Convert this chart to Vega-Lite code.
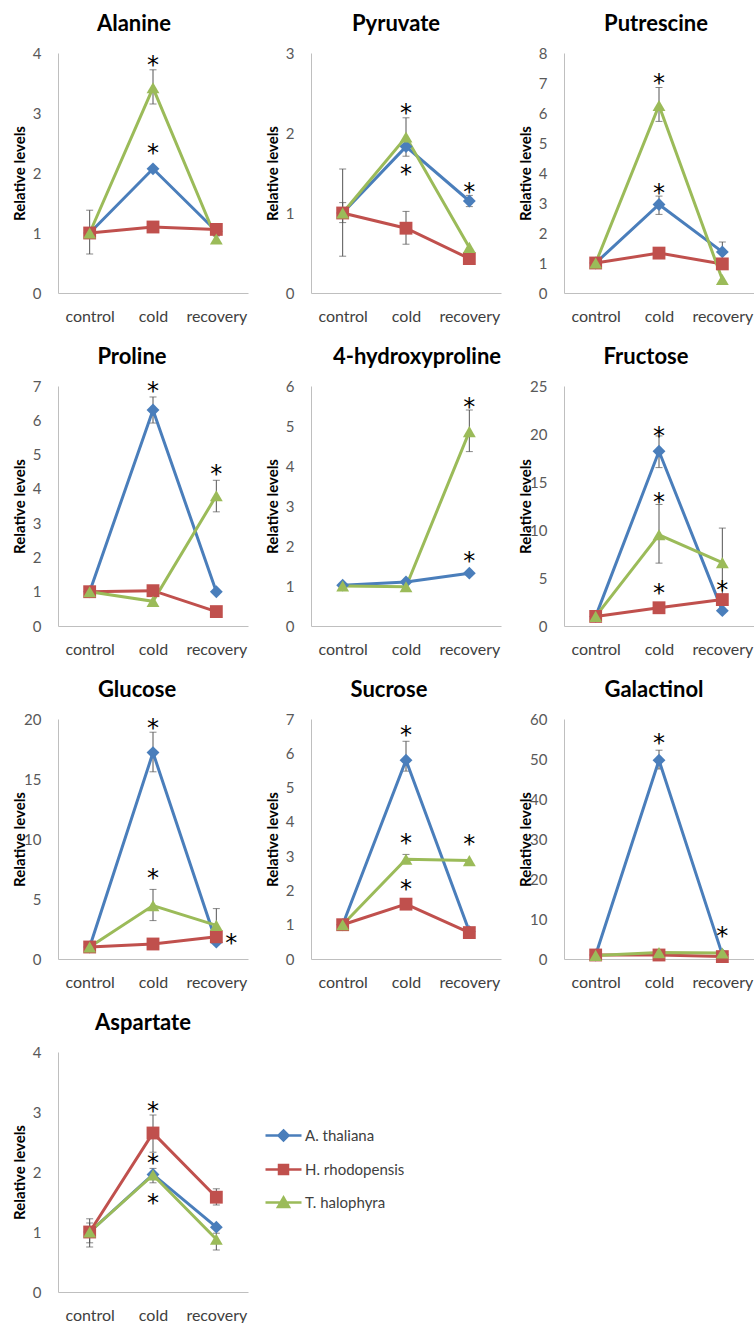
{
  "$schema": "https://vega.github.io/schema/vega-lite/v6.json",
  "padding": {"left": 12, "top": 13, "right": 0, "bottom": 0},
  "background": "white",
  "columns": 3,
  "bounds": "flush",
  "spacing": {"row": 93, "column": 63},
  "resolve": {"legend": {"color": "independent", "shape": "independent"}},
  "data": {"values": [
    {"m":"Alanine","c":"control","s":"A. thaliana","v":1.0},
    {"m":"Alanine","c":"cold","s":"A. thaliana","v":2.07,"sy":2.41},
    {"m":"Alanine","c":"recovery","s":"A. thaliana","v":1.03},
    {"m":"Alanine","c":"control","s":"H. rhodopensis","v":1.0},
    {"m":"Alanine","c":"cold","s":"H. rhodopensis","v":1.1},
    {"m":"Alanine","c":"recovery","s":"H. rhodopensis","v":1.06,"lo":0.96,"hi":1.12},
    {"m":"Alanine","c":"control","s":"T. halophyra","v":1.0,"lo":0.65,"hi":1.38},
    {"m":"Alanine","c":"cold","s":"T. halophyra","v":3.42,"lo":3.15,"hi":3.72,"sy":3.88},
    {"m":"Alanine","c":"recovery","s":"T. halophyra","v":0.9,"lo":0.85,"hi":0.95},

    {"m":"Pyruvate","c":"control","s":"A. thaliana","v":1.0},
    {"m":"Pyruvate","c":"cold","s":"A. thaliana","v":1.83,"sy":1.55},
    {"m":"Pyruvate","c":"recovery","s":"A. thaliana","v":1.15,"lo":1.08,"hi":1.22,"sy":1.33},
    {"m":"Pyruvate","c":"control","s":"H. rhodopensis","v":1.0,"lo":0.46,"hi":1.55},
    {"m":"Pyruvate","c":"cold","s":"H. rhodopensis","v":0.81,"lo":0.61,"hi":1.02},
    {"m":"Pyruvate","c":"recovery","s":"H. rhodopensis","v":0.43},
    {"m":"Pyruvate","c":"control","s":"T. halophyra","v":1.0,"lo":0.88,"hi":1.13},
    {"m":"Pyruvate","c":"cold","s":"T. halophyra","v":1.95,"lo":1.71,"hi":2.19,"sy":2.31},
    {"m":"Pyruvate","c":"recovery","s":"T. halophyra","v":0.57},

    {"m":"Putrescine","c":"control","s":"A. thaliana","v":1.0},
    {"m":"Putrescine","c":"cold","s":"A. thaliana","v":2.95,"lo":2.62,"hi":3.23,"sy":3.49},
    {"m":"Putrescine","c":"recovery","s":"A. thaliana","v":1.37,"lo":1.02,"hi":1.7},
    {"m":"Putrescine","c":"control","s":"H. rhodopensis","v":1.0},
    {"m":"Putrescine","c":"cold","s":"H. rhodopensis","v":1.33},
    {"m":"Putrescine","c":"recovery","s":"H. rhodopensis","v":0.97},
    {"m":"Putrescine","c":"control","s":"T. halophyra","v":1.0},
    {"m":"Putrescine","c":"cold","s":"T. halophyra","v":6.25,"lo":5.72,"hi":6.85,"sy":7.16},
    {"m":"Putrescine","c":"recovery","s":"T. halophyra","v":0.45},

    {"m":"Proline","c":"control","s":"A. thaliana","v":1.0},
    {"m":"Proline","c":"cold","s":"A. thaliana","v":6.3,"lo":5.92,"hi":6.68,"sy":7.0},
    {"m":"Proline","c":"recovery","s":"A. thaliana","v":1.0},
    {"m":"Proline","c":"control","s":"H. rhodopensis","v":1.0},
    {"m":"Proline","c":"cold","s":"H. rhodopensis","v":1.03},
    {"m":"Proline","c":"recovery","s":"H. rhodopensis","v":0.42},
    {"m":"Proline","c":"control","s":"T. halophyra","v":1.0,"lo":0.9,"hi":1.08},
    {"m":"Proline","c":"cold","s":"T. halophyra","v":0.72},
    {"m":"Proline","c":"recovery","s":"T. halophyra","v":3.8,"lo":3.33,"hi":4.25,"sy":4.59},

    {"m":"4-hydroxyproline","c":"control","s":"A. thaliana","v":1.02},
    {"m":"4-hydroxyproline","c":"cold","s":"A. thaliana","v":1.1},
    {"m":"4-hydroxyproline","c":"recovery","s":"A. thaliana","v":1.32,"sy":1.76},
    {"m":"4-hydroxyproline","c":"control","s":"T. halophyra","v":1.0},
    {"m":"4-hydroxyproline","c":"cold","s":"T. halophyra","v":0.98},
    {"m":"4-hydroxyproline","c":"recovery","s":"T. halophyra","v":4.86,"lo":4.36,"hi":5.4,"sy":5.6},

    {"m":"Fructose","c":"control","s":"A. thaliana","v":1.0},
    {"m":"Fructose","c":"cold","s":"A. thaliana","v":18.2,"lo":16.5,"hi":19.8,"sy":20.3},
    {"m":"Fructose","c":"recovery","s":"A. thaliana","v":1.6},
    {"m":"Fructose","c":"control","s":"H. rhodopensis","v":1.0},
    {"m":"Fructose","c":"cold","s":"H. rhodopensis","v":1.9,"sy":3.97},
    {"m":"Fructose","c":"recovery","s":"H. rhodopensis","v":2.75,"sy":4.3},
    {"m":"Fructose","c":"control","s":"T. halophyra","v":1.0},
    {"m":"Fructose","c":"cold","s":"T. halophyra","v":9.5,"lo":6.55,"hi":12.66,"sy":13.45},
    {"m":"Fructose","c":"recovery","s":"T. halophyra","v":6.6,"lo":3.0,"hi":10.2},

    {"m":"Glucose","c":"control","s":"A. thaliana","v":1.0},
    {"m":"Glucose","c":"cold","s":"A. thaliana","v":17.2,"lo":15.6,"hi":18.9,"sy":19.67},
    {"m":"Glucose","c":"recovery","s":"A. thaliana","v":1.4},
    {"m":"Glucose","c":"control","s":"H. rhodopensis","v":1.0},
    {"m":"Glucose","c":"cold","s":"H. rhodopensis","v":1.25},
    {"m":"Glucose","c":"recovery","s":"H. rhodopensis","v":1.85,"sy":1.72,"side":"right"},
    {"m":"Glucose","c":"control","s":"T. halophyra","v":1.0},
    {"m":"Glucose","c":"cold","s":"T. halophyra","v":4.45,"lo":3.2,"hi":5.8,"sy":7.2},
    {"m":"Glucose","c":"recovery","s":"T. halophyra","v":2.8,"lo":1.4,"hi":4.2},

    {"m":"Sucrose","c":"control","s":"A. thaliana","v":1.0},
    {"m":"Sucrose","c":"cold","s":"A. thaliana","v":5.8,"lo":5.48,"hi":6.35,"sy":6.69},
    {"m":"Sucrose","c":"recovery","s":"A. thaliana","v":0.8},
    {"m":"Sucrose","c":"control","s":"H. rhodopensis","v":1.0},
    {"m":"Sucrose","c":"cold","s":"H. rhodopensis","v":1.6,"sy":2.18},
    {"m":"Sucrose","c":"recovery","s":"H. rhodopensis","v":0.77},
    {"m":"Sucrose","c":"control","s":"T. halophyra","v":1.0},
    {"m":"Sucrose","c":"cold","s":"T. halophyra","v":2.91,"lo":2.8,"hi":3.05,"sy":3.54},
    {"m":"Sucrose","c":"recovery","s":"T. halophyra","v":2.87,"sy":3.49},

    {"m":"Galactinol","c":"control","s":"A. thaliana","v":1.0},
    {"m":"Galactinol","c":"cold","s":"A. thaliana","v":49.7,"lo":47.5,"hi":52.2,"sy":55.25},
    {"m":"Galactinol","c":"recovery","s":"A. thaliana","v":1.1,"sy":6.9},
    {"m":"Galactinol","c":"control","s":"H. rhodopensis","v":1.0},
    {"m":"Galactinol","c":"cold","s":"H. rhodopensis","v":1.0},
    {"m":"Galactinol","c":"recovery","s":"H. rhodopensis","v":0.6},
    {"m":"Galactinol","c":"control","s":"T. halophyra","v":0.9},
    {"m":"Galactinol","c":"cold","s":"T. halophyra","v":1.6},
    {"m":"Galactinol","c":"recovery","s":"T. halophyra","v":1.5},

    {"m":"Aspartate","c":"control","s":"A. thaliana","v":1.0},
    {"m":"Aspartate","c":"cold","s":"A. thaliana","v":1.96,"sy":1.57},
    {"m":"Aspartate","c":"recovery","s":"A. thaliana","v":1.08},
    {"m":"Aspartate","c":"control","s":"H. rhodopensis","v":1.0,"lo":0.75,"hi":1.22},
    {"m":"Aspartate","c":"cold","s":"H. rhodopensis","v":2.65,"lo":2.33,"hi":2.95,"sy":3.1},
    {"m":"Aspartate","c":"recovery","s":"H. rhodopensis","v":1.58,"lo":1.45,"hi":1.72},
    {"m":"Aspartate","c":"control","s":"T. halophyra","v":1.0,"lo":0.82,"hi":1.15},
    {"m":"Aspartate","c":"cold","s":"T. halophyra","v":1.95,"lo":1.82,"hi":2.06,"sy":2.24},
    {"m":"Aspartate","c":"recovery","s":"T. halophyra","v":0.88,"lo":0.7,"hi":0.98}
  ]},
  "concat": [
    {
      "width": 190, "height": 240,
      "title": {"text": "Alanine", "dx": -19},
      "transform": [{"filter": "datum.m === 'Alanine'"}],
      "encoding": {"x": {"field": "c", "type": "nominal", "sort": ["control","cold","recovery"], "scale": {"type": "point", "padding": 0.5}, "axis": {"title": null, "labelAngle": 0}}},
      "layer": [
        {"transform": [{"filter": "isValid(datum.lo)"}], "mark": {"type": "errorbar", "ticks": true, "size": 7, "thickness": 1, "color": "#555555"}, "encoding": {"y": {"field": "lo", "type": "quantitative", "scale": {"domain": [0,4], "nice": false}, "axis": {"values": [0,1,2,3,4], "format": "d"}, "title": "Relative levels"}, "y2": {"field": "hi"}}},
        {"mark": {"type": "line", "strokeWidth": 3}, "encoding": {"y": {"field": "v", "type": "quantitative", "scale": {"domain": [0,4], "nice": false}, "axis": {"values": [0,1,2,3,4], "format": "d"}, "title": "Relative levels"}, "color": {"field": "s", "type": "nominal", "legend": null}}},
        {"mark": {"type": "point", "filled": true, "opacity": 1, "size": 165}, "encoding": {"y": {"field": "v", "type": "quantitative", "scale": {"domain": [0,4], "nice": false}, "axis": {"values": [0,1,2,3,4], "format": "d"}, "title": "Relative levels"}, "color": {"field": "s", "type": "nominal", "legend": null}, "shape": {"field": "s", "type": "nominal", "legend": null}}},
        {"transform": [{"filter": "isValid(datum.sy) && datum.side !== 'right'"}], "mark": {"type": "text", "text": "*", "font": "DejaVu Sans", "fontSize": 24, "baseline": "middle", "dy": 6, "color": "#000000"}, "encoding": {"y": {"field": "sy", "type": "quantitative", "scale": {"domain": [0,4], "nice": false}, "axis": {"values": [0,1,2,3,4], "format": "d"}, "title": "Relative levels"}}}
      ]
    },
    {
      "width": 190, "height": 240,
      "title": {"text": "Pyruvate", "dx": -10},
      "transform": [{"filter": "datum.m === 'Pyruvate'"}],
      "encoding": {"x": {"field": "c", "type": "nominal", "sort": ["control","cold","recovery"], "scale": {"type": "point", "padding": 0.5}, "axis": {"title": null, "labelAngle": 0}}},
      "layer": [
        {"transform": [{"filter": "isValid(datum.lo)"}], "mark": {"type": "errorbar", "ticks": true, "size": 7, "thickness": 1, "color": "#555555"}, "encoding": {"y": {"field": "lo", "type": "quantitative", "scale": {"domain": [0,3], "nice": false}, "axis": {"values": [0,1,2,3], "format": "d"}, "title": "Relative levels"}, "y2": {"field": "hi"}}},
        {"mark": {"type": "line", "strokeWidth": 3}, "encoding": {"y": {"field": "v", "type": "quantitative", "scale": {"domain": [0,3], "nice": false}, "axis": {"values": [0,1,2,3], "format": "d"}, "title": "Relative levels"}, "color": {"field": "s", "type": "nominal", "legend": null}}},
        {"mark": {"type": "point", "filled": true, "opacity": 1, "size": 165}, "encoding": {"y": {"field": "v", "type": "quantitative", "scale": {"domain": [0,3], "nice": false}, "axis": {"values": [0,1,2,3], "format": "d"}, "title": "Relative levels"}, "color": {"field": "s", "type": "nominal", "legend": null}, "shape": {"field": "s", "type": "nominal", "legend": null}}},
        {"transform": [{"filter": "isValid(datum.sy) && datum.side !== 'right'"}], "mark": {"type": "text", "text": "*", "font": "DejaVu Sans", "fontSize": 24, "baseline": "middle", "dy": 6, "color": "#000000"}, "encoding": {"y": {"field": "sy", "type": "quantitative", "scale": {"domain": [0,3], "nice": false}, "axis": {"values": [0,1,2,3], "format": "d"}, "title": "Relative levels"}}}
      ]
    },
    {
      "width": 190, "height": 240,
      "title": {"text": "Putrescine", "dx": -3},
      "transform": [{"filter": "datum.m === 'Putrescine'"}],
      "encoding": {"x": {"field": "c", "type": "nominal", "sort": ["control","cold","recovery"], "scale": {"type": "point", "padding": 0.5}, "axis": {"title": null, "labelAngle": 0}}},
      "layer": [
        {"transform": [{"filter": "isValid(datum.lo)"}], "mark": {"type": "errorbar", "ticks": true, "size": 7, "thickness": 1, "color": "#555555"}, "encoding": {"y": {"field": "lo", "type": "quantitative", "scale": {"domain": [0,8], "nice": false}, "axis": {"values": [0,1,2,3,4,5,6,7,8], "format": "d"}, "title": "Relative levels"}, "y2": {"field": "hi"}}},
        {"mark": {"type": "line", "strokeWidth": 3}, "encoding": {"y": {"field": "v", "type": "quantitative", "scale": {"domain": [0,8], "nice": false}, "axis": {"values": [0,1,2,3,4,5,6,7,8], "format": "d"}, "title": "Relative levels"}, "color": {"field": "s", "type": "nominal", "legend": null}}},
        {"mark": {"type": "point", "filled": true, "opacity": 1, "size": 165}, "encoding": {"y": {"field": "v", "type": "quantitative", "scale": {"domain": [0,8], "nice": false}, "axis": {"values": [0,1,2,3,4,5,6,7,8], "format": "d"}, "title": "Relative levels"}, "color": {"field": "s", "type": "nominal", "legend": null}, "shape": {"field": "s", "type": "nominal", "legend": null}}},
        {"transform": [{"filter": "isValid(datum.sy) && datum.side !== 'right'"}], "mark": {"type": "text", "text": "*", "font": "DejaVu Sans", "fontSize": 24, "baseline": "middle", "dy": 6, "color": "#000000"}, "encoding": {"y": {"field": "sy", "type": "quantitative", "scale": {"domain": [0,8], "nice": false}, "axis": {"values": [0,1,2,3,4,5,6,7,8], "format": "d"}, "title": "Relative levels"}}}
      ]
    },
    {
      "width": 190, "height": 240,
      "title": {"text": "Proline", "dx": -21},
      "transform": [{"filter": "datum.m === 'Proline'"}],
      "encoding": {"x": {"field": "c", "type": "nominal", "sort": ["control","cold","recovery"], "scale": {"type": "point", "padding": 0.5}, "axis": {"title": null, "labelAngle": 0}}},
      "layer": [
        {"transform": [{"filter": "isValid(datum.lo)"}], "mark": {"type": "errorbar", "ticks": true, "size": 7, "thickness": 1, "color": "#555555"}, "encoding": {"y": {"field": "lo", "type": "quantitative", "scale": {"domain": [0,7], "nice": false}, "axis": {"values": [0,1,2,3,4,5,6,7], "format": "d"}, "title": "Relative levels"}, "y2": {"field": "hi"}}},
        {"mark": {"type": "line", "strokeWidth": 3}, "encoding": {"y": {"field": "v", "type": "quantitative", "scale": {"domain": [0,7], "nice": false}, "axis": {"values": [0,1,2,3,4,5,6,7], "format": "d"}, "title": "Relative levels"}, "color": {"field": "s", "type": "nominal", "legend": null}}},
        {"mark": {"type": "point", "filled": true, "opacity": 1, "size": 165}, "encoding": {"y": {"field": "v", "type": "quantitative", "scale": {"domain": [0,7], "nice": false}, "axis": {"values": [0,1,2,3,4,5,6,7], "format": "d"}, "title": "Relative levels"}, "color": {"field": "s", "type": "nominal", "legend": null}, "shape": {"field": "s", "type": "nominal", "legend": null}}},
        {"transform": [{"filter": "isValid(datum.sy) && datum.side !== 'right'"}], "mark": {"type": "text", "text": "*", "font": "DejaVu Sans", "fontSize": 24, "baseline": "middle", "dy": 6, "color": "#000000"}, "encoding": {"y": {"field": "sy", "type": "quantitative", "scale": {"domain": [0,7], "nice": false}, "axis": {"values": [0,1,2,3,4,5,6,7], "format": "d"}, "title": "Relative levels"}}}
      ]
    },
    {
      "width": 190, "height": 240,
      "title": {"text": "4-hydroxyproline", "dx": 11},
      "transform": [{"filter": "datum.m === '4-hydroxyproline'"}],
      "encoding": {"x": {"field": "c", "type": "nominal", "sort": ["control","cold","recovery"], "scale": {"type": "point", "padding": 0.5}, "axis": {"title": null, "labelAngle": 0}}},
      "layer": [
        {"transform": [{"filter": "isValid(datum.lo)"}], "mark": {"type": "errorbar", "ticks": true, "size": 7, "thickness": 1, "color": "#555555"}, "encoding": {"y": {"field": "lo", "type": "quantitative", "scale": {"domain": [0,6], "nice": false}, "axis": {"values": [0,1,2,3,4,5,6], "format": "d"}, "title": "Relative levels"}, "y2": {"field": "hi"}}},
        {"mark": {"type": "line", "strokeWidth": 3}, "encoding": {"y": {"field": "v", "type": "quantitative", "scale": {"domain": [0,6], "nice": false}, "axis": {"values": [0,1,2,3,4,5,6], "format": "d"}, "title": "Relative levels"}, "color": {"field": "s", "type": "nominal", "legend": null}}},
        {"mark": {"type": "point", "filled": true, "opacity": 1, "size": 165}, "encoding": {"y": {"field": "v", "type": "quantitative", "scale": {"domain": [0,6], "nice": false}, "axis": {"values": [0,1,2,3,4,5,6], "format": "d"}, "title": "Relative levels"}, "color": {"field": "s", "type": "nominal", "legend": null}, "shape": {"field": "s", "type": "nominal", "legend": null}}},
        {"transform": [{"filter": "isValid(datum.sy) && datum.side !== 'right'"}], "mark": {"type": "text", "text": "*", "font": "DejaVu Sans", "fontSize": 24, "baseline": "middle", "dy": 6, "color": "#000000"}, "encoding": {"y": {"field": "sy", "type": "quantitative", "scale": {"domain": [0,6], "nice": false}, "axis": {"values": [0,1,2,3,4,5,6], "format": "d"}, "title": "Relative levels"}}}
      ]
    },
    {
      "width": 190, "height": 240,
      "title": {"text": "Fructose", "dx": -13},
      "transform": [{"filter": "datum.m === 'Fructose'"}],
      "encoding": {"x": {"field": "c", "type": "nominal", "sort": ["control","cold","recovery"], "scale": {"type": "point", "padding": 0.5}, "axis": {"title": null, "labelAngle": 0}}},
      "layer": [
        {"transform": [{"filter": "isValid(datum.lo)"}], "mark": {"type": "errorbar", "ticks": true, "size": 7, "thickness": 1, "color": "#555555"}, "encoding": {"y": {"field": "lo", "type": "quantitative", "scale": {"domain": [0,25], "nice": false}, "axis": {"values": [0,5,10,15,20,25], "format": "d"}, "title": "Relative levels"}, "y2": {"field": "hi"}}},
        {"mark": {"type": "line", "strokeWidth": 3}, "encoding": {"y": {"field": "v", "type": "quantitative", "scale": {"domain": [0,25], "nice": false}, "axis": {"values": [0,5,10,15,20,25], "format": "d"}, "title": "Relative levels"}, "color": {"field": "s", "type": "nominal", "legend": null}}},
        {"mark": {"type": "point", "filled": true, "opacity": 1, "size": 165}, "encoding": {"y": {"field": "v", "type": "quantitative", "scale": {"domain": [0,25], "nice": false}, "axis": {"values": [0,5,10,15,20,25], "format": "d"}, "title": "Relative levels"}, "color": {"field": "s", "type": "nominal", "legend": null}, "shape": {"field": "s", "type": "nominal", "legend": null}}},
        {"transform": [{"filter": "isValid(datum.sy) && datum.side !== 'right'"}], "mark": {"type": "text", "text": "*", "font": "DejaVu Sans", "fontSize": 24, "baseline": "middle", "dy": 6, "color": "#000000"}, "encoding": {"y": {"field": "sy", "type": "quantitative", "scale": {"domain": [0,25], "nice": false}, "axis": {"values": [0,5,10,15,20,25], "format": "d"}, "title": "Relative levels"}}}
      ]
    },
    {
      "width": 190, "height": 240,
      "title": {"text": "Glucose", "dx": -16},
      "transform": [{"filter": "datum.m === 'Glucose'"}],
      "encoding": {"x": {"field": "c", "type": "nominal", "sort": ["control","cold","recovery"], "scale": {"type": "point", "padding": 0.5}, "axis": {"title": null, "labelAngle": 0}}},
      "layer": [
        {"transform": [{"filter": "isValid(datum.lo)"}], "mark": {"type": "errorbar", "ticks": true, "size": 7, "thickness": 1, "color": "#555555"}, "encoding": {"y": {"field": "lo", "type": "quantitative", "scale": {"domain": [0,20], "nice": false}, "axis": {"values": [0,5,10,15,20], "format": "d"}, "title": "Relative levels"}, "y2": {"field": "hi"}}},
        {"mark": {"type": "line", "strokeWidth": 3}, "encoding": {"y": {"field": "v", "type": "quantitative", "scale": {"domain": [0,20], "nice": false}, "axis": {"values": [0,5,10,15,20], "format": "d"}, "title": "Relative levels"}, "color": {"field": "s", "type": "nominal", "legend": null}}},
        {"mark": {"type": "point", "filled": true, "opacity": 1, "size": 165}, "encoding": {"y": {"field": "v", "type": "quantitative", "scale": {"domain": [0,20], "nice": false}, "axis": {"values": [0,5,10,15,20], "format": "d"}, "title": "Relative levels"}, "color": {"field": "s", "type": "nominal", "legend": null}, "shape": {"field": "s", "type": "nominal", "legend": null}}},
        {"transform": [{"filter": "isValid(datum.sy) && datum.side !== 'right'"}], "mark": {"type": "text", "text": "*", "font": "DejaVu Sans", "fontSize": 24, "baseline": "middle", "dy": 6, "color": "#000000"}, "encoding": {"y": {"field": "sy", "type": "quantitative", "scale": {"domain": [0,20], "nice": false}, "axis": {"values": [0,5,10,15,20], "format": "d"}, "title": "Relative levels"}}},
        {"transform": [{"filter": "datum.side === 'right'"}], "mark": {"type": "text", "text": "*", "font": "DejaVu Sans", "fontSize": 24, "baseline": "middle", "dy": 6, "dx": 15, "color": "#000000"}, "encoding": {"y": {"field": "sy", "type": "quantitative", "scale": {"domain": [0,20], "nice": false}, "axis": {"values": [0,5,10,15,20], "format": "d"}, "title": "Relative levels"}}}
      ]
    },
    {
      "width": 190, "height": 240,
      "title": {"text": "Sucrose", "dx": -17},
      "transform": [{"filter": "datum.m === 'Sucrose'"}],
      "encoding": {"x": {"field": "c", "type": "nominal", "sort": ["control","cold","recovery"], "scale": {"type": "point", "padding": 0.5}, "axis": {"title": null, "labelAngle": 0}}},
      "layer": [
        {"transform": [{"filter": "isValid(datum.lo)"}], "mark": {"type": "errorbar", "ticks": true, "size": 7, "thickness": 1, "color": "#555555"}, "encoding": {"y": {"field": "lo", "type": "quantitative", "scale": {"domain": [0,7], "nice": false}, "axis": {"values": [0,1,2,3,4,5,6,7], "format": "d"}, "title": "Relative levels"}, "y2": {"field": "hi"}}},
        {"mark": {"type": "line", "strokeWidth": 3}, "encoding": {"y": {"field": "v", "type": "quantitative", "scale": {"domain": [0,7], "nice": false}, "axis": {"values": [0,1,2,3,4,5,6,7], "format": "d"}, "title": "Relative levels"}, "color": {"field": "s", "type": "nominal", "legend": null}}},
        {"mark": {"type": "point", "filled": true, "opacity": 1, "size": 165}, "encoding": {"y": {"field": "v", "type": "quantitative", "scale": {"domain": [0,7], "nice": false}, "axis": {"values": [0,1,2,3,4,5,6,7], "format": "d"}, "title": "Relative levels"}, "color": {"field": "s", "type": "nominal", "legend": null}, "shape": {"field": "s", "type": "nominal", "legend": null}}},
        {"transform": [{"filter": "isValid(datum.sy) && datum.side !== 'right'"}], "mark": {"type": "text", "text": "*", "font": "DejaVu Sans", "fontSize": 24, "baseline": "middle", "dy": 6, "color": "#000000"}, "encoding": {"y": {"field": "sy", "type": "quantitative", "scale": {"domain": [0,7], "nice": false}, "axis": {"values": [0,1,2,3,4,5,6,7], "format": "d"}, "title": "Relative levels"}}}
      ]
    },
    {
      "width": 190, "height": 240,
      "title": {"text": "Galactinol", "dx": -5},
      "transform": [{"filter": "datum.m === 'Galactinol'"}],
      "encoding": {"x": {"field": "c", "type": "nominal", "sort": ["control","cold","recovery"], "scale": {"type": "point", "padding": 0.5}, "axis": {"title": null, "labelAngle": 0}}},
      "layer": [
        {"transform": [{"filter": "isValid(datum.lo)"}], "mark": {"type": "errorbar", "ticks": true, "size": 7, "thickness": 1, "color": "#555555"}, "encoding": {"y": {"field": "lo", "type": "quantitative", "scale": {"domain": [0,60], "nice": false}, "axis": {"values": [0,10,20,30,40,50,60], "format": "d"}, "title": "Relative levels"}, "y2": {"field": "hi"}}},
        {"mark": {"type": "line", "strokeWidth": 3}, "encoding": {"y": {"field": "v", "type": "quantitative", "scale": {"domain": [0,60], "nice": false}, "axis": {"values": [0,10,20,30,40,50,60], "format": "d"}, "title": "Relative levels"}, "color": {"field": "s", "type": "nominal", "legend": null}}},
        {"mark": {"type": "point", "filled": true, "opacity": 1, "size": 165}, "encoding": {"y": {"field": "v", "type": "quantitative", "scale": {"domain": [0,60], "nice": false}, "axis": {"values": [0,10,20,30,40,50,60], "format": "d"}, "title": "Relative levels"}, "color": {"field": "s", "type": "nominal", "legend": null}, "shape": {"field": "s", "type": "nominal", "legend": null}}},
        {"transform": [{"filter": "isValid(datum.sy) && datum.side !== 'right'"}], "mark": {"type": "text", "text": "*", "font": "DejaVu Sans", "fontSize": 24, "baseline": "middle", "dy": 6, "color": "#000000"}, "encoding": {"y": {"field": "sy", "type": "quantitative", "scale": {"domain": [0,60], "nice": false}, "axis": {"values": [0,10,20,30,40,50,60], "format": "d"}, "title": "Relative levels"}}}
      ]
    },
    {
      "width": 190, "height": 240,
      "title": {"text": "Aspartate", "dx": -10},
      "transform": [{"filter": "datum.m === 'Aspartate'"}],
      "encoding": {"x": {"field": "c", "type": "nominal", "sort": ["control","cold","recovery"], "scale": {"type": "point", "padding": 0.5}, "axis": {"title": null, "labelAngle": 0}}},
      "layer": [
        {"transform": [{"filter": "isValid(datum.lo)"}], "mark": {"type": "errorbar", "ticks": true, "size": 7, "thickness": 1, "color": "#555555"}, "encoding": {"y": {"field": "lo", "type": "quantitative", "scale": {"domain": [0,4], "nice": false}, "axis": {"values": [0,1,2,3,4], "format": "d"}, "title": "Relative levels"}, "y2": {"field": "hi"}}},
        {"mark": {"type": "line", "strokeWidth": 3}, "encoding": {"y": {"field": "v", "type": "quantitative", "scale": {"domain": [0,4], "nice": false}, "axis": {"values": [0,1,2,3,4], "format": "d"}, "title": "Relative levels"}, "color": {"field": "s", "type": "nominal", "legend": {"orient": "none", "legendX": 214, "legendY": 72, "title": null, "symbolSize": 400, "labelOffset": 10, "rowPadding": 12, "labelFont": "Lato", "labelFontSize": 15, "labelColor": "#404040", "encode": {"symbols": {"update": {"shape": {"signal": "datum.value === 'A. thaliana' ? 'M-1.8,0H1.8M0,-0.5L0.5,0L0,0.5L-0.5,0Z' : datum.value === 'H. rhodopensis' ? 'M-1.8,0H1.8M-0.45,-0.45H0.45V0.45H-0.45Z' : 'M-1.8,0H1.8M0,-0.5L0.55,0.45H-0.55Z'"}, "fill": {"signal": "scale('color', datum.value)"}, "stroke": {"signal": "scale('color', datum.value)"}, "strokeWidth": {"value": 2.5}, "opacity": {"value": 1}}}}}}}},
        {"mark": {"type": "point", "filled": true, "opacity": 1, "size": 165}, "encoding": {"y": {"field": "v", "type": "quantitative", "scale": {"domain": [0,4], "nice": false}, "axis": {"values": [0,1,2,3,4], "format": "d"}, "title": "Relative levels"}, "color": {"field": "s", "type": "nominal", "legend": {"orient": "none", "legendX": 214, "legendY": 72, "title": null, "symbolSize": 400, "labelOffset": 10, "rowPadding": 12, "labelFont": "Lato", "labelFontSize": 15, "labelColor": "#404040", "encode": {"symbols": {"update": {"shape": {"signal": "datum.value === 'A. thaliana' ? 'M-1.8,0H1.8M0,-0.5L0.5,0L0,0.5L-0.5,0Z' : datum.value === 'H. rhodopensis' ? 'M-1.8,0H1.8M-0.45,-0.45H0.45V0.45H-0.45Z' : 'M-1.8,0H1.8M0,-0.5L0.55,0.45H-0.55Z'"}, "fill": {"signal": "scale('color', datum.value)"}, "stroke": {"signal": "scale('color', datum.value)"}, "strokeWidth": {"value": 2.5}, "opacity": {"value": 1}}}}}}, "shape": {"field": "s", "type": "nominal", "legend": null}}},
        {"transform": [{"filter": "isValid(datum.sy) && datum.side !== 'right'"}], "mark": {"type": "text", "text": "*", "font": "DejaVu Sans", "fontSize": 24, "baseline": "middle", "dy": 6, "color": "#000000"}, "encoding": {"y": {"field": "sy", "type": "quantitative", "scale": {"domain": [0,4], "nice": false}, "axis": {"values": [0,1,2,3,4], "format": "d"}, "title": "Relative levels"}}}
      ]
    }
  ],
  "config": {
    "font": "Lato",
    "view": {"stroke": null},
    "axis": {"domainColor": "#bfbfbf", "domainWidth": 1, "ticks": false, "grid": false, "labelFont": "Lato", "labelFontSize": 15, "labelColor": "#595959", "titleFont": "Lato", "titleFontSize": 15, "titleFontWeight": "bold", "titleColor": "#000000"},
    "axisY": {"labelPadding": 17, "minExtent": 28, "maxExtent": 28, "titlePadding": 3},
    "axisX": {"labelPadding": 15, "labelColor": "#404040", "labelFontSize": 16},
    "title": {"font": "Lato", "fontSize": 22, "fontWeight": "bold", "color": "#000000", "offset": 10, "anchor": "middle"},
    "range": {"category": ["#4A7EBB", "#C0504D", "#9BBB59"], "symbol": ["diamond", "square", "triangle-up"]}
  }
}
